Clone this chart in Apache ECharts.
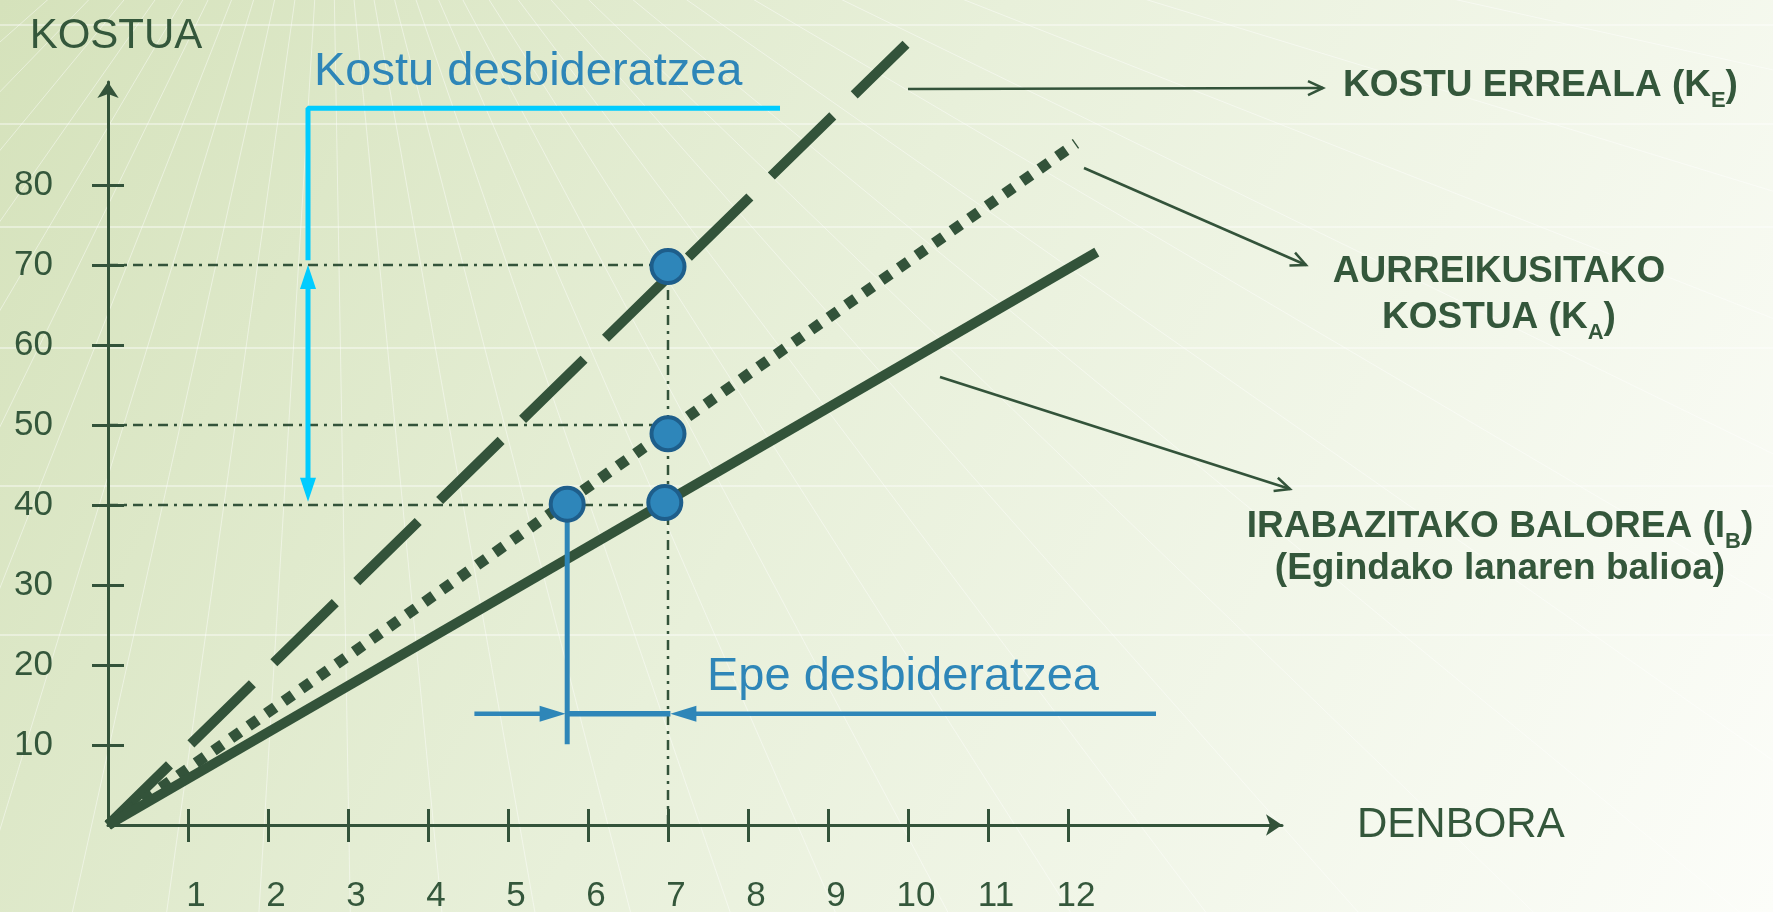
<!DOCTYPE html>
<html><head><meta charset="utf-8">
<script src="https://cdn.jsdelivr.net/npm/echarts@6/dist/echarts.min.js"></script>
<style>html,body{margin:0;padding:0;width:1773px;height:912px;overflow:hidden}#c{width:1773px;height:912px}</style>
</head><body><div id="c"></div>
<script>
// ---- data ----
const xTickValues = [1,2,3,4,5,6,7,8,9,10,11,12];
const yTickValues = [10,20,30,40,50,60,70,80];
const realCost    = [[0,0],[9.975,97.6]];   // KOSTU ERREALA (KE)
const plannedCost = [[0,0],[12.1,85.2]];    // AURREIKUSITAKO KOSTUA (KA)
const earnedValue = [[0,0],[12.36,71.6]];   // IRABAZITAKO BALOREA (IB)
const keyPoints   = [[7,69.8],[7,48.9],[6.96,40.3],[5.74,40.1]];
const guideLevels = [70,50,40];
const guideTime   = 7;
const costBracket = [[8.4,89.6],[2.5,89.6],[2.5,70.6]];
const costArrow   = [[2.5,70],[2.5,40.4]];
const scheduleStem  = [[5.74,40.1],[5.74,10.1]];
const scheduleLeft  = [[4.58,13.9],[5.72,13.9]];
const scheduleMid   = [[5.72,13.9],[7.03,13.9]];
const scheduleRight = [[13.1,13.9],[7.03,13.9]];

// ---- styling ----
const GREEN = '#33533a', TEXT = '#34573b', BLUE = '#2e86b8', CYAN = '#00ccff';
const FONT = '"Liberation Sans", Arial, sans-serif';
const W = 1773, H = 912;
const X_MAX = 14.675, Y_MAX = 92.875;

const chart = echarts.init(document.getElementById('c'), null, {renderer:'canvas'});

function seg(data, color, width, type, z) {
  return {type:'line', data, xAxisIndex:0, yAxisIndex:0, symbol:'none', showSymbol:false, silent:true, clip:false,
    lineStyle:{color, width, type: type || 'solid', cap:'butt'}, z: z || 3, animation:false};
}
// arrow(s) drawn through the axes' scales: each item is [x1, y1, x2, y2]
function arrowSeries(pairs, color, width, head, both, z) {
  const items = pairs.map(p => [p[0][0], p[0][1], p[1][0], p[1][1]]);
  return {type:'custom', coordinateSystem:'cartesian2d', xAxisIndex:0, yAxisIndex:0, data:items, clip:false,
    silent:true, z: z || 4, animation:false,
    renderItem(params, api) {
      const a = api.coord([api.value(0), api.value(1)]);
      const b = api.coord([api.value(2), api.value(3)]);
      const ang = Math.atan2(b[1]-a[1], b[0]-a[0]);
      const L = head[1], hw = head[0]/2;
      const cx = Math.cos(ang), cy = Math.sin(ang), px = -cy*hw, py = cx*hw;
      const bx = b[0]-L*cx, by = b[1]-L*cy;
      const children = [];
      let sx = a[0], sy = a[1];
      if (both) {
        const ax = a[0]+L*cx, ay = a[1]+L*cy;
        children.push({type:'polygon', shape:{points:[[ax+px,ay+py],[a[0],a[1]],[ax-px,ay-py]]}, style:{fill:color}});
        sx = ax; sy = ay;
      }
      children.push({type:'line', shape:{x1:sx,y1:sy,x2:bx+cx*2,y2:by+cy*2}, style:{stroke:color, lineWidth:width}});
      children.push({type:'polygon', shape:{points:[[bx+px,by+py],[b[0],b[1]],[bx-px,by-py]]}, style:{fill:color}});
      return {type:'group', children};
    }};
}

const series = [];
guideLevels.forEach(v => series.push(seg([[0,v],[guideTime,v]], GREEN, 2.5, [10,6,3,6], 2)));
series.push(seg([[guideTime, guideLevels[0]],[guideTime,0]], GREEN, 2.5, [10,6,3,6], 2));
series.push(seg(realCost, GREEN, 10, [86,30], 3));
series.push(seg(plannedCost, GREEN, 11, [11,10.5], 3));
series.push(seg(earnedValue, GREEN, 10, 'solid', 3));
series.push(seg(costBracket, CYAN, 5, 'solid', 4));
series.push(arrowSeries([costArrow], CYAN, 5, [16,24], true, 4));
series.push(seg(scheduleStem, BLUE, 5, 'solid', 4));
series.push(arrowSeries([scheduleLeft, scheduleRight], BLUE, 4.5, [16,26], false, 4));
series.push(seg(scheduleMid, BLUE, 5.5, 'solid', 4));
series.push({type:'scatter', data:keyPoints, symbol:'circle', symbolSize:33, silent:true, z:6, animation:false, clip:false,
  itemStyle:{color:'#2e86ba', borderColor:'#1e5e8b', borderWidth:4, opacity:1}});

// ---- decorative background & annotations ----
const deco = [];
[25,124,227,348,486,635].forEach(y => deco.push({type:'line', silent:true, z:-10,
  shape:{x1:0,y1:y,x2:W,y2:y}, style:{stroke:'rgba(255,255,255,0.8)', lineWidth:1.2}}));
for (let a = -62; a <= 80; a += 4.5) {
  const r = a*Math.PI/180, L = 3000;
  deco.push({type:'line', silent:true, z:-10,
    shape:{x1:330,y1:-250,x2:330+Math.sin(r)*L,y2:-250+Math.cos(r)*L},
    style:{stroke:'rgba(255,255,255,0.45)', lineWidth:1}});
}
function pointer(x1,y1,x2,y2) {
  const ang = Math.atan2(y2-y1, x2-x1), L = 15, hw = 7;
  const bx = x2 - L*Math.cos(ang), by = y2 - L*Math.sin(ang);
  const px = -Math.sin(ang)*hw, py = Math.cos(ang)*hw;
  return [
    {type:'line', silent:true, z:10, shape:{x1,y1,x2,y2}, style:{stroke:GREEN, lineWidth:2.5}},
    {type:'polyline', silent:true, z:10, shape:{points:[[bx+px,by+py],[x2,y2],[bx-px,by-py]]},
      style:{stroke:GREEN, lineWidth:2.5, fill:null}}
  ];
}
const rich = (lh) => ({
  m:{fontSize:37, fontWeight:'bold', fontFamily:FONT, fill:TEXT, color:TEXT, lineHeight:lh},
  s:{fontSize:22, fontWeight:'bold', fontFamily:FONT, fill:TEXT, color:TEXT, lineHeight:22, padding:[30,0,0,0]}
});
function label(text, x, y, align, lh) {
  return {type:'text', silent:true, z:10, x, y,
    style:{text, x:0, y:0, align, textAlign:align, verticalAlign:'middle', textVerticalAlign:'middle', rich:rich(lh),
      font:'bold 37px '+FONT, fill:TEXT}};
}
const notes = [
  ...pointer(908,89,1323,88),
  ...pointer(1084,168,1306,265),
  ...pointer(940,377,1290,489),
  label('{m|KOSTU ERREALA (K}{s|E}{m|)}', 1343, 86, 'left', 40),
  label('{m|AURREIKUSITAKO}\n{m|KOSTUA (K}{s|A}{m|)}', 1499, 295, 'center', 46),
  label('{m|IRABAZITAKO BALOREA (I}{s|B}{m|)}\n{m|(Egindako lanaren balioa)}', 1500, 548, 'center', 42),
  {type:'text', silent:true, z:10, x:314, y:72,
    style:{text:'Kostu desbideratzea', font:'47px '+FONT, fill:BLUE, align:'left', verticalAlign:'middle', textAlign:'left', textVerticalAlign:'middle'}},
  {type:'text', silent:true, z:10, x:707, y:677,
    style:{text:'Epe desbideratzea', font:'47px '+FONT, fill:BLUE, align:'left', verticalAlign:'middle', textAlign:'left', textVerticalAlign:'middle'}}
];

const axisCommon = {type:'value', min:0, splitLine:{show:false}};
const option = {
  animation:false,
  backgroundColor:{type:'linear', x:0, y:0, x2:1, y2:1,
    colorStops:[{offset:0,color:'#d5e2bb'},{offset:0.45,color:'#e8f0da'},{offset:1,color:'#fcfdf9'}]},
  grid:{left:108, right:W-1282, top:82, bottom:H-825, containLabel:false, outerBoundsMode:'none'},
  xAxis:[
    Object.assign({}, axisCommon, {max:X_MAX, interval:1, position:'bottom',
      name:'DENBORA', nameLocation:'end', nameGap:75,
      nameTextStyle:{fontSize:42, fontFamily:FONT, color:TEXT, align:'left', verticalAlign:'middle'},
      axisLine:{show:true, onZero:false, symbol:['none','arrow'], symbolSize:[16,16], lineStyle:{color:GREEN, width:3}},
      axisTick:{show:true, inside:false, length:17, customValues:xTickValues, lineStyle:{color:GREEN, width:3}},
      axisLabel:{show:true, customValues:xTickValues, margin:54, fontSize:35, fontFamily:FONT, color:TEXT, padding:[0,0,0,16]}}),
    Object.assign({}, axisCommon, {max:X_MAX, interval:1, position:'bottom', offset:0,
      axisLine:{show:false, onZero:false},
      axisTick:{show:true, inside:true, length:16, customValues:xTickValues, lineStyle:{color:GREEN, width:3}},
      axisLabel:{show:false}})
  ],
  yAxis:[
    Object.assign({}, axisCommon, {max:Y_MAX, interval:10, position:'left',
      name:'KOSTUA', nameLocation:'end', nameGap:25,
      nameTextStyle:{fontSize:42, fontFamily:FONT, color:TEXT, padding:[0,0,0,16]},
      axisLine:{show:true, onZero:false, symbol:['none','arrow'], symbolSize:[16,16], lineStyle:{color:GREEN, width:3}},
      axisTick:{show:true, inside:false, length:16, customValues:yTickValues, lineStyle:{color:GREEN, width:3}},
      axisLabel:{show:true, customValues:yTickValues, margin:55, fontSize:35, fontFamily:FONT, color:TEXT, padding:[10,0,0,0]}}),
    Object.assign({}, axisCommon, {max:Y_MAX, interval:10, position:'left', offset:0,
      axisLine:{show:false, onZero:false},
      axisTick:{show:true, inside:true, length:16, customValues:yTickValues, lineStyle:{color:GREEN, width:3}},
      axisLabel:{show:false}})
  ],
  graphic:[...deco, ...notes],
  series
};
chart.setOption(option);
</script></body></html>
